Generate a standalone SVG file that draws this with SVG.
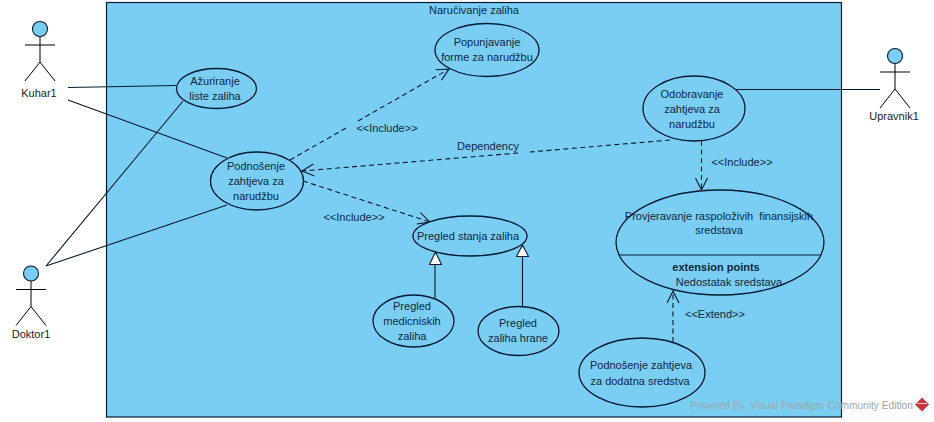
<svg xmlns="http://www.w3.org/2000/svg" width="934" height="422" viewBox="0 0 934 422">
<style>
text{font-family:"Liberation Sans",Arial,sans-serif;font-size:11px;fill:#10283c;text-anchor:middle}
.a text{fill:#222}
.u{fill:#7acef4;stroke:#041a30;stroke-width:1.3}
.l{fill:none;stroke:#041a30;stroke-width:1.1}
.d{fill:none;stroke:#041a30;stroke-width:1.1;stroke-dasharray:5 3.500}
.s{fill:none;stroke:#000;stroke-width:1}
.h{fill:#7acef4;stroke:#041a30;stroke-width:1.1}
.t{fill:#fff;stroke:#041a30;stroke-width:1.1}
</style>
<defs>
<marker id="open" markerUnits="userSpaceOnUse" markerWidth="16" markerHeight="16" refX="13" refY="8" orient="auto"><path d="M1 2 L13 8 L1 14" fill="none" stroke="#041a30" stroke-width="1.100"/></marker>
<g id="actor"><circle class="h" cx="0" cy="0" r="7.500"/><path class="s" d="M0 7.500V33M-15 16H15M-15 52L0 33L15 52"/></g>
</defs>
<rect width="934" height="422" fill="#fff"/>
<g id="system"><rect x="106.500" y="2.500" width="735" height="414.500" fill="#7acef4" stroke="#041a30" stroke-width="1.200"/><text x="474" y="14">Naručivanje zaliha</text></g>
<g id="connectors">
<path class="l" d="M68 87.500L176 85.500M68 100L227 158M46 266L183 101M46 266L227 205M880 89.500H735"/>
<path class="d" d="M290 160L346 128M358 121L449 69" marker-end="url(#open)"/>
<path class="d" d="M670 140L530 152M518 153L302 171" marker-end="url(#open)"/>
<path class="d" d="M303 181L430 222" marker-end="url(#open)"/>
<path class="d" d="M701.500 141V190" marker-end="url(#open)"/>
<path class="d" d="M673 342V291" marker-end="url(#open)"/>
<path class="l" d="M435 298V265M522.500 306V257"/>
<path class="t" d="M435.500 252L441.500 264.500H429.500ZM522.500 245L528.500 256.500H516.500Z"/>
<text x="387" y="132">&lt;&lt;Include&gt;&gt;</text>
<text x="488" y="150">Dependency</text>
<text x="354" y="221">&lt;&lt;Include&gt;&gt;</text>
<text x="742" y="166">&lt;&lt;Include&gt;&gt;</text>
<text x="715" y="318">&lt;&lt;Extend&gt;&gt;</text>
</g>
<g id="kuhar" class="a"><use href="#actor" x="40" y="29"/><text x="39" y="97">Kuhar1</text></g>
<g id="doktor" class="a"><use href="#actor" x="31" y="273.500"/><text x="31" y="338">Doktor1</text></g>
<g id="upravnik" class="a"><use href="#actor" x="895" y="56"/><text x="894" y="120">Upravnik1</text></g>
<g id="azuriranje"><ellipse class="u" cx="216.500" cy="88.500" rx="40" ry="20"/><text x="215" y="85">Ažuriranje</text><text x="215" y="100">liste zaliha</text></g>
<g id="podnosenje"><ellipse class="u" cx="257" cy="181" rx="46.500" ry="29"/><text x="256" y="170">Podnošenje</text><text x="256" y="185">zahtjeva za</text><text x="256" y="200">narudžbu</text></g>
<g id="popunjavanje"><ellipse class="u" cx="487" cy="50" rx="52" ry="26.500"/><text x="487" y="46">Popunjavanje</text><text x="487" y="61">forme za narudžbu</text></g>
<g id="odobravanje"><ellipse class="u" cx="694" cy="108.500" rx="51" ry="32.500"/><text x="692" y="98">Odobravanje</text><text x="692" y="113">zahtjeva za</text><text x="692" y="128">narudžbu</text></g>
<g id="provjeravanje"><ellipse class="u" cx="720" cy="242.500" rx="104" ry="52.500"/><path class="l" d="M619 255H820"/><text x="719" y="220">Provjeravanje raspoloživih&#160; finansijskih</text><text x="719" y="234">sredstava</text><text x="716" y="271" font-weight="700">extension points</text><text x="729" y="286">Nedostatak sredstava</text></g>
<g id="pregled-stanja"><ellipse class="u" cx="470" cy="236" rx="57" ry="20"/><text x="468" y="240">Pregled stanja zaliha</text></g>
<g id="pregled-med"><ellipse class="u" cx="413.500" cy="321" rx="40.500" ry="26"/><text x="412" y="310">Pregled</text><text x="412" y="325">medicniskih</text><text x="412" y="340">zaliha</text></g>
<g id="pregled-hrane"><ellipse class="u" cx="518.500" cy="331" rx="40.500" ry="24.500"/><text x="518" y="327">Pregled</text><text x="518" y="342">zaliha hrane</text></g>
<g id="podnosenje-dodatna"><ellipse class="u" cx="642" cy="372.500" rx="63" ry="34.500"/><text x="641" y="369">Podnošenje zahtjeva</text><text x="640" y="385">za dodatna sredstva</text></g>
<g id="watermark"><text x="690" y="409" style="fill:#a0a5aa;font-size:10.200px;text-anchor:start">Powered By&#160; Visual Paradigm Community Edition</text><path d="M922 397.500L929 404.500L922 411.500L915 404.500Z" fill="#c8353a"/><path d="M917 403.500H927" stroke="#f4c6c6" stroke-width="1"/></g>
</svg>
